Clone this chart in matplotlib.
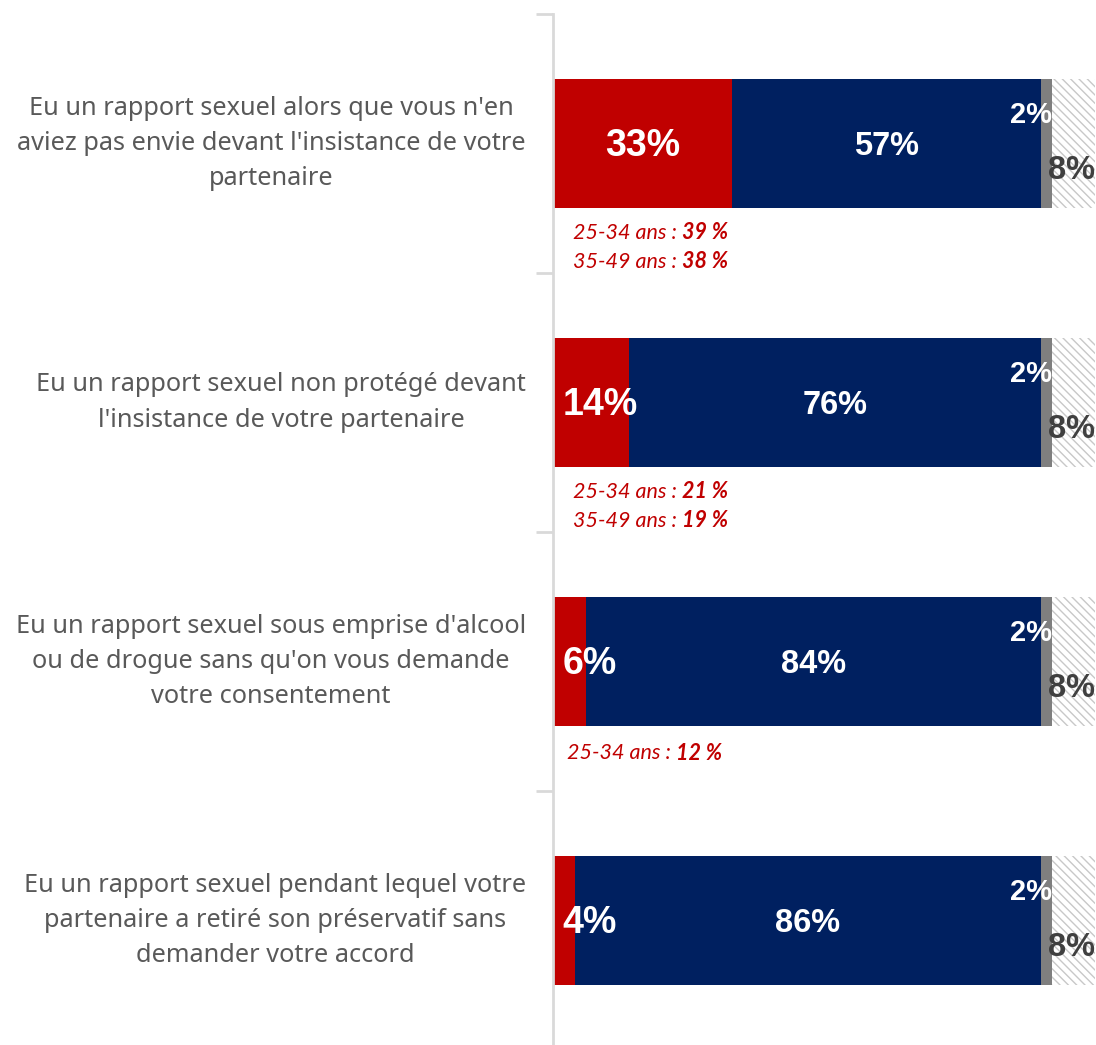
import matplotlib.pyplot as plt
from matplotlib.transforms import ScaledTranslation

plt.rcParams['font.family'] = ['Liberation Sans', 'DejaVu Sans']
plt.rcParams['hatch.linewidth'] = 1.0

categories = [
    "Eu un rapport sexuel alors que vous n'en\naviez pas envie devant l'insistance de votre\npartenaire",
    "Eu un rapport sexuel non protégé devant\nl'insistance de votre partenaire",
    "Eu un rapport sexuel sous emprise d'alcool\nou de drogue sans qu'on vous demande\nvotre consentement",
    "Eu un rapport sexuel pendant lequel votre\npartenaire a retiré son préservatif sans\ndemander votre accord",
]
oui = [33, 14, 6, 4]
non = [57, 76, 84, 86]
nsp = [2, 2, 2, 2]
refus = [8, 8, 8, 8]

# age-group notes under bars: (label, value)
notes = [
    [("25-34 ans : ", "39 %"), ("35-49 ans : ", "38 %")],
    [("25-34 ans : ", "21 %"), ("35-49 ans : ", "19 %")],
    [("25-34 ans : ", "12 %")],
    [],
]

RED = "#c00000"
NAVY = "#002060"
GRAY = "#7f7f7f"
NOTE_FONT = ["Lato", "DejaVu Sans"]

fig = plt.figure(figsize=(10.96, 10.45), dpi=100)
ax = fig.add_axes([553 / 1096, 1 - 1050 / 1045, 542 / 1096, 1036 / 1045])

y = list(range(len(categories)))
h = 0.5
left2 = [a + b for a, b in zip(oui, non)]
left3 = [a + b for a, b in zip(left2, nsp)]

ax.barh(y, oui, height=h, color=RED)
ax.barh(y, non, left=oui, height=h, color=NAVY)
ax.barh(y, nsp, left=left2, height=h, color=GRAY)
ax.barh(y, refus, left=left3, height=h, color="white", edgecolor="#c8c8c8",
        hatch="\\\\\\\\", linewidth=0)

for i in y:
    if oui[i] >= 20:
        ax.text(oui[i] / 2, i + 0.01, f"{oui[i]}%", ha="center", va="center",
                color="white", fontsize=27, fontweight="bold")
    else:
        ax.text(1.7, i + 0.01, f"{oui[i]}%", ha="left", va="center",
                color="white", fontsize=27, fontweight="bold")
    ax.text(oui[i] + non[i] / 2, i + 0.01, f"{non[i]}%", ha="center", va="center",
            color="white", fontsize=23.5, fontweight="bold")
    ax.text(left3[i], i - 0.11, f"{nsp[i]}%", ha="right", va="center",
            color="white", fontsize=21, fontweight="bold")
    ax.text(100, i + 0.105, f"{refus[i]}%", ha="right", va="center",
            color="#404040", fontsize=23.5, fontweight="bold")

    for k, (lab, val) in enumerate(notes[i]):
        x0 = 3.7 if len(notes[i]) > 1 else 2.6
        yy = i + (0.345 if len(notes[i]) > 1 else 0.355) + 0.112 * k
        t = ax.text(x0, yy, lab, ha="left", va="center", color=RED,
                    fontsize=15.5, style="italic", family=NOTE_FONT)
        ax.annotate(val, xy=(1, 0.5), xycoords=t, ha="left", va="center",
                    color=RED, fontsize=15.5, style="italic", fontweight="bold",
                    family=NOTE_FONT)

ax.set_xlim(0, 100)
ax.set_ylim(3.5, -0.5)
ax.set_yticks(y)
ax.set_yticklabels(categories, fontsize=18.2, color="#595959",
                   multialignment="center", linespacing=1.55,
                   family=["Noto Sans", "DejaVu Sans"], va="center")
shift = ScaledTranslation(0, -0.03, fig.dpi_scale_trans)
for lbl in ax.get_yticklabels():
    lbl.set_transform(lbl.get_transform() + shift)
ax.tick_params(axis="y", which="major", length=0, pad=19.5)
ax.set_yticks([-0.5, 0.5, 1.5, 2.5, 3.5], minor=True)
ax.tick_params(axis="y", which="minor", length=12, width=2, color="#d9d9d9")
ax.set_xticks([])
for s in ["top", "right", "bottom"]:
    ax.spines[s].set_visible(False)
ax.spines["left"].set_color("#d9d9d9")
ax.spines["left"].set_linewidth(2)

fig.savefig("out.png", dpi=100)
